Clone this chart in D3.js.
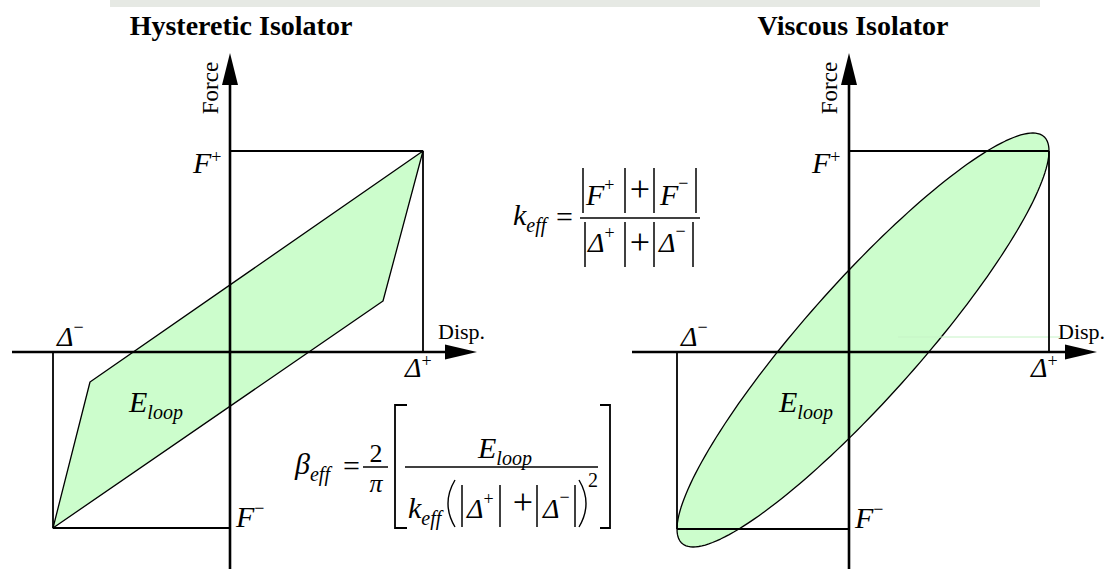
<!DOCTYPE html>
<html>
<head>
<meta charset="utf-8">
<script src="https://cdn.jsdelivr.net/npm/d3@7"></script>
<style>
  body { margin:0; background:#fff; }
  svg text { font-family:"Liberation Serif","Times New Roman",serif; fill:#000; }
</style>
</head>
<body>
<svg id="chart" width="1110" height="569"></svg>
<script>
// Panel titles
const titles = ["Hysteretic Isolator", "Viscous Isolator"];

// Peak displacements / forces of each panel (1 unit ~ Δ+)
const dispPlus = [0.965, 1.0];
const dispMinus = [-0.885, -0.86];
const forcePlus = [1.005, 1.005];
const forceMinus = [-0.88, -0.885];

// Hysteretic loop corners
const hystLoopDisp = [0.965, 0.765, -0.885, -0.70];
const hystLoopForce = [1.005, 0.255, -0.88, -0.15];

// Viscous loop: centre, displacement amplitude, elastic and damping force amplitudes
const viscCentre = [0.07, 0.06];
const viscDispAmp = 0.93;
const viscForceAmp = 0.945;
const viscDampAmp = 0.422;

// E_loop label spot (disp, force) per panel
const eLoopDisp = [-0.505, -0.35];
const eLoopForce = [-0.30, -0.30];

// Axis extents
const dispExtent = [[-1.09, 1.235], [-1.085, 1.24]];
const forceExtent = [-1.09, 1.495];

const svg = d3.select("#chart");
const FILL = "#ccfdcc";

// faint band at top of the scan
svg.append("rect").attr("x",110).attr("y",0).attr("width",930).attr("height",7).attr("fill","#e6e9e4");

// helper: italic symbol with optional sup/sub
function sym(x, y, main, opt = {}) {
  const t = svg.append("text").attr("x", x).attr("y", y)
    .style("font-size", (opt.size || 30) + "px").style("font-style", "italic");
  t.append("tspan").text(main);
  if (opt.sup) t.append("tspan").text(opt.sup).attr("dy", opt.supDy || -12)
    .style("font-size", (opt.supSize || 18) + "px").style("font-style", "normal");
  if (opt.sub) t.append("tspan").text(opt.sub).attr("dy", opt.subDy || 7)
    .style("font-size", (opt.subSize || 20) + "px");
  return t;
}
function plain(x, y, s, size, anchor) {
  return svg.append("text").attr("x", x).attr("y", y).attr("text-anchor", anchor || "start")
    .style("font-size", size + "px").text(s);
}
function hline(x1, x2, y, w) {
  svg.append("line").attr("x1",x1).attr("x2",x2).attr("y1",y).attr("y2",y).attr("stroke","#000").attr("stroke-width",w||1.5);
}
function vline(x, y1, y2, w) {
  svg.append("line").attr("x1",x).attr("x2",x).attr("y1",y1).attr("y2",y2).attr("stroke","#000").attr("stroke-width",w||1.5);
}

const originX = [230, 849];
const titleX = [241, 853];

titles.forEach((title, i) => {
  const x = d3.scaleLinear().domain([0, 1]).range([originX[i], originX[i] + 200]);
  const y = d3.scaleLinear().domain([0, 1]).range([352, 152]);

  // loop fill
  let loop;
  if (i === 0) {
    loop = hystLoopDisp.map((d, k) => [d, hystLoopForce[k]]);
  } else {
    loop = d3.range(0, 2 * Math.PI, Math.PI / 90).map(t => [
      viscCentre[0] + viscDispAmp * Math.sin(t),
      viscCentre[1] + viscForceAmp * Math.sin(t) + viscDampAmp * Math.cos(t)
    ]);
  }
  const line = d3.line().x(d => x(d[0])).y(d => y(d[1])).curve(d3.curveLinearClosed);
  svg.append("path").datum(loop).attr("d", line).attr("fill", FILL)
    .attr("stroke", "#000").attr("stroke-width", 1.3).attr("stroke-linejoin", "round");

  if (i === 1) {
    // faint stray guide line in the scan
    svg.append("line").attr("x1", x(0.245)).attr("x2", x(1.055)).attr("y1", y(0.075)).attr("y2", y(0.075))
      .attr("stroke", "#c6f3c6").attr("stroke-width", 1);
  }

  // peak guides
  hline(x(0), x(dispPlus[i]), y(forcePlus[i]), 1.8);
  vline(x(dispPlus[i]), y(forcePlus[i]), y(0), 1.8);
  hline(x(dispMinus[i]), x(0), y(forceMinus[i]), 1.8);
  vline(x(dispMinus[i]), y(0), y(forceMinus[i]), 1.8);

  // axes with arrows
  const xEnd = x(dispExtent[i][1]), yTop = y(forceExtent[1]);
  hline(x(dispExtent[i][0]), xEnd - 20, y(0), 2.6);
  vline(x(0), y(forceExtent[0]), yTop + 20, 2.6);
  svg.append("path").attr("d", `M${xEnd},${y(0)} L${xEnd-32},${y(0)-7.5} L${xEnd-32},${y(0)+7.5} Z`).attr("fill", "#000");
  svg.append("path").attr("d", `M${x(0)},${yTop} L${x(0)-8},${yTop+32} L${x(0)+8},${yTop+32} Z`).attr("fill", "#000");

  // titles and axis names
  plain(titleX[i], 35, title, 28, "middle").style("font-weight", "bold");
  svg.append("text").attr("transform", `translate(${x(0) - 12},${yTop + 35}) rotate(-90)`)
    .attr("text-anchor", "middle").style("font-size", "23px").text("Force");
  plain(xEnd - 39, y(0) - 13, "Disp.", 22);

  // peak labels
  sym(x(0) - 37, y(forcePlus[i]) + 22, "F", { sup: "+", supDy: -10 });
  sym(x(0) + 6, y(forceMinus[i]) - 1, "F", { sup: "\u2212", supDy: -13 });
  sym(x(dispMinus[i]) + 4, y(0) - 6, "\u0394", { size: 28, sup: "\u2212", supDy: -13 });
  sym(x(dispPlus[i]) - 18, y(0) + 25, "\u0394", { size: 28, sup: "+", supDy: -10 });
  sym(x(eLoopDisp[i]), y(eLoopForce[i]), "E", { sub: "loop" });
});

// k_eff formula
sym(513, 225, "k", { sub: "eff" });
plain(556, 227, "=", 30);
hline(580, 700, 218, 1.5);
[583, 625, 654, 696].forEach(b => vline(b, 168, 213, 1.5));
[585, 625, 654, 693].forEach(b => vline(b, 222, 267, 1.5));
sym(586, 205, "F", { sup: "+", supDy: -14 });
plain(640, 201, "+", 36, "middle");
sym(660, 205, "F", { sup: "\u2212", supDy: -16 });
sym(588, 252, "\u0394", { size: 28, sup: "+", supDy: -13 });
plain(640, 254, "+", 36, "middle");
sym(659, 252, "\u0394", { size: 28, sup: "\u2212", supDy: -15 });

// beta_eff formula
sym(295, 474, "\u03b2", { sub: "eff" });
plain(343, 476, "=", 30);
plain(376, 462, "2", 26, "middle");
plain(376, 492, "\u03c0", 26, "middle").style("font-style", "italic");
hline(363, 388, 467, 1.5);
svg.append("path").attr("d", "M407,405 H395 V528 H407").attr("fill", "none").attr("stroke", "#000").attr("stroke-width", 1.8);
svg.append("path").attr("d", "M600,405 H610 V528 H600").attr("fill", "none").attr("stroke", "#000").attr("stroke-width", 1.8);
hline(405, 598, 467, 1.5);
sym(478, 458, "E", { sub: "loop" });
sym(408, 518, "k", { sub: "eff" });
// thin tall parentheses
svg.append("path").attr("d", "M455,480 Q441,503.5 455,527").attr("fill", "none").attr("stroke", "#000").attr("stroke-width", 1.4);
svg.append("path").attr("d", "M579,480 Q593,503.5 579,527").attr("fill", "none").attr("stroke", "#000").attr("stroke-width", 1.4);
[462, 500, 537, 575].forEach(b => vline(b, 485, 527, 1.5));
sym(467, 518, "\u0394", { size: 28, sup: "+", supDy: -13 });
plain(523, 514, "+", 36, "middle");
sym(543, 518, "\u0394", { size: 28, sup: "\u2212", supDy: -15 });
plain(588, 487, "2", 20);
</script>
</body>
</html>
